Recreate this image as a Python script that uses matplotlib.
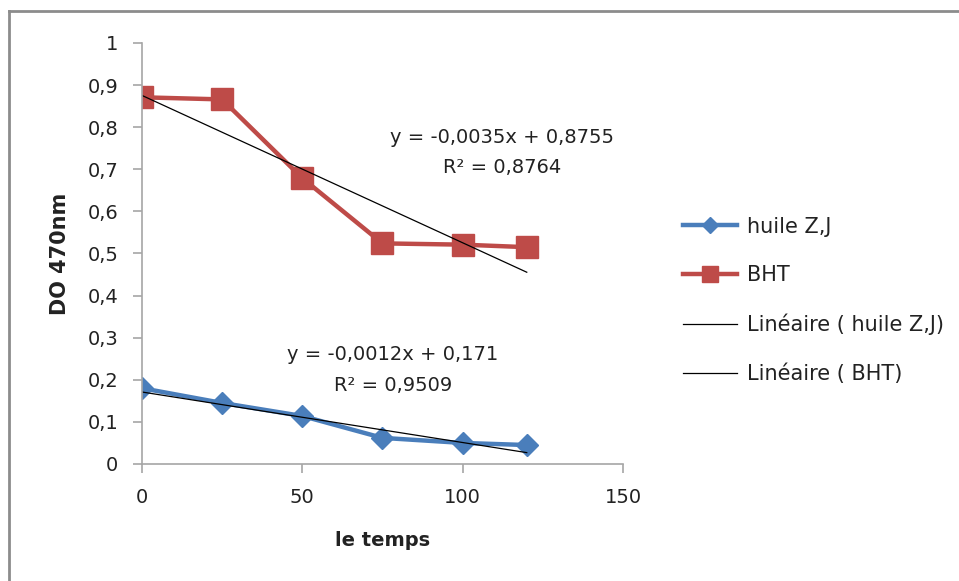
import matplotlib.pyplot as plt
from matplotlib.ticker import FuncFormatter, MultipleLocator
from matplotlib.lines import Line2D
import numpy as np

plt.rcParams['font.family'] = ['DejaVu Sans']

# données
temps = [0, 25, 50, 75, 100, 120]
huile_zj = [0.180, 0.145, 0.114, 0.062, 0.050, 0.045]
bht = [0.871, 0.866, 0.679, 0.524, 0.521, 0.515]

# droites de tendance (Excel)
pente_huile, origine_huile = -0.0012, 0.171
pente_bht, origine_bht = -0.0035, 0.8755
eq_huile = "y = -0,0012x + 0,171\nR² = 0,9509"
eq_bht = "y = -0,0035x + 0,8755\nR² = 0,8764"

bleu = '#4a7ebb'
rouge = '#be4b48'
gris = '#a6a6a6'
texte = '#222222'

fig = plt.figure(figsize=(9.59, 5.81), dpi=100)
ax = fig.add_axes([0.148, 0.2014, 0.5016, 0.7246])

ax.plot(temps, huile_zj, color=bleu, lw=3.2, marker='D', ms=11)
ax.plot(temps, bht, color=rouge, lw=3.2, marker='s', ms=15.5)

xt = np.array([temps[0], temps[-1]])
ax.plot(xt, pente_huile * xt + origine_huile, color='black', lw=0.9)
ax.plot(xt, pente_bht * xt + origine_bht, color='black', lw=0.9)

ax.set_xlim(0, 150)
ax.set_ylim(0, 1)
ax.xaxis.set_major_locator(MultipleLocator(50))
ax.yaxis.set_major_locator(MultipleLocator(0.1))


def virgule(v, p):
    if abs(v - round(v)) < 1e-9:
        return '%d' % round(v)
    return ('%.1f' % v).replace('.', ',')


ax.yaxis.set_major_formatter(FuncFormatter(virgule))

for s in ['top', 'right']:
    ax.spines[s].set_visible(False)
for s in ['left', 'bottom']:
    ax.spines[s].set_color(gris)
    ax.spines[s].set_linewidth(1.2)
ax.tick_params(colors=gris, labelcolor=texte, labelsize=14, length=6.5, width=1.2)
ax.tick_params(axis='x', pad=11)
ax.tick_params(axis='y', pad=10.5)

ax.set_xlabel('le temps', fontsize=14, fontweight='bold', color=texte)
ax.xaxis.set_label_coords(0.5, -0.16)
ax.set_ylabel('DO 470nm', fontsize=15, fontweight='bold', color=texte)
ax.yaxis.set_label_coords(-0.15, 0.5)

ax.text(112.3, 0.74, eq_bht, ha='center', va='center', fontsize=14, linespacing=1.75, color=texte)
ax.text(78.3, 0.223, eq_huile, ha='center', va='center', fontsize=14, linespacing=1.75, color=texte)

poignees = [
    Line2D([], [], color=bleu, lw=3.2, marker='D', ms=8),
    Line2D([], [], color=rouge, lw=3.2, marker='s', ms=11),
    Line2D([], [], color='black', lw=0.9),
    Line2D([], [], color='black', lw=0.9),
]
noms = ['huile Z,J', 'BHT', 'Linéaire ( huile Z,J)', 'Linéaire ( BHT)']
leg = fig.legend(poignees, noms, loc='center left', bbox_to_anchor=(0.712, 0.483), frameon=False,
                 fontsize=15, handlelength=2.6, labelspacing=1.37, handletextpad=0.5,
                 borderpad=0, borderaxespad=0)
for t in leg.get_texts():
    t.set_color(texte)

# cadre du graphique
fig.add_artist(Line2D([0.0094, 1.0], [0.981, 0.981], transform=fig.transFigure, color='#8c8c8c', lw=2))
fig.add_artist(Line2D([0.0094, 0.0094], [0.0, 0.981], transform=fig.transFigure, color='#8c8c8c', lw=2))

fig.savefig('out.png', dpi=100)
